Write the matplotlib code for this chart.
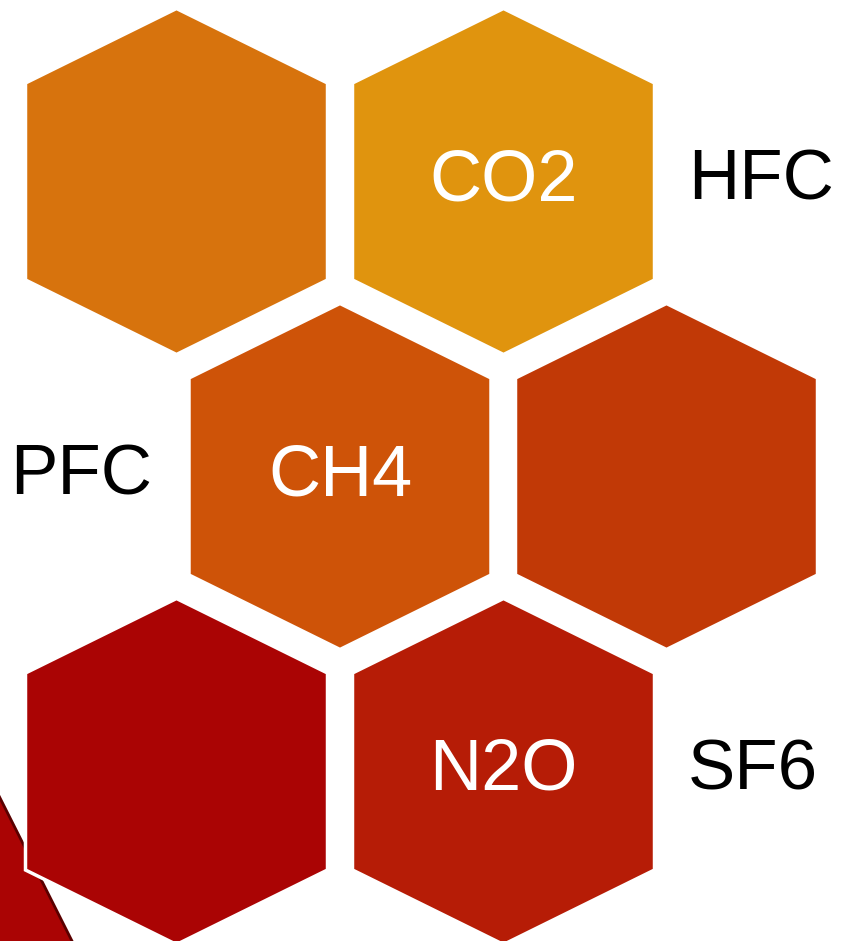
import matplotlib.pyplot as plt
from matplotlib.patches import Polygon

# hexagon cells: centre in pixels, fill colour, label inside
hex_x = [176.5, 503.5, 340, 666.5, 176.5, 503.5]
hex_y = [181.5, 181.5, 476.5, 476.5, 771.5, 771.5]
hex_colors = ['#D7730D', '#E0940E', '#CE5308', '#C13906', '#AA0404', '#B61C06']
hex_labels = ['', 'CO2', 'CH4', '', '', 'N2O']

# labels beside the cluster
side_labels = ['HFC', 'PFC', 'SF6']
side_x = [688, 10, 688]
side_y = [181.5, 476.5, 771.5]

HW, HH, SH = 151, 173, 98.5  # half width, half height, shoulder offset (incl. white edge)

def hexagon(cx, cy):
    return [(cx, cy - HH), (cx + HW, cy - SH), (cx + HW, cy + SH),
            (cx, cy + HH), (cx - HW, cy + SH), (cx - HW, cy - SH)]

fig = plt.figure(figsize=(8.44, 9.41), dpi=100)
ax = fig.add_axes([0, 0, 1, 1])
ax.set_xlim(0, 844)
ax.set_ylim(941, 0)
ax.axis('off')

# arrow piece poking in at the bottom left, behind the last hexagon
ax.add_patch(Polygon([(-5, 788), (74, 945), (-5, 945)], closed=True,
                     facecolor='#AA0404', edgecolor='#5A0000', lw=2, zorder=1))

for cx, cy, c, lab in zip(hex_x, hex_y, hex_colors, hex_labels):
    ax.add_patch(Polygon(hexagon(cx, cy), closed=True, facecolor=c,
                         edgecolor='white', lw=2.5, zorder=2))
    if lab:
        ax.text(cx, cy, lab, color='white', fontsize=52, ha='center', va='center',
                family='Liberation Sans', zorder=3)

for lab, x, y in zip(side_labels, side_x, side_y):
    ax.text(x, y, lab, color='black', fontsize=51, ha='left', va='center',
            family='Liberation Sans')

plt.savefig('out.png', dpi=100)
